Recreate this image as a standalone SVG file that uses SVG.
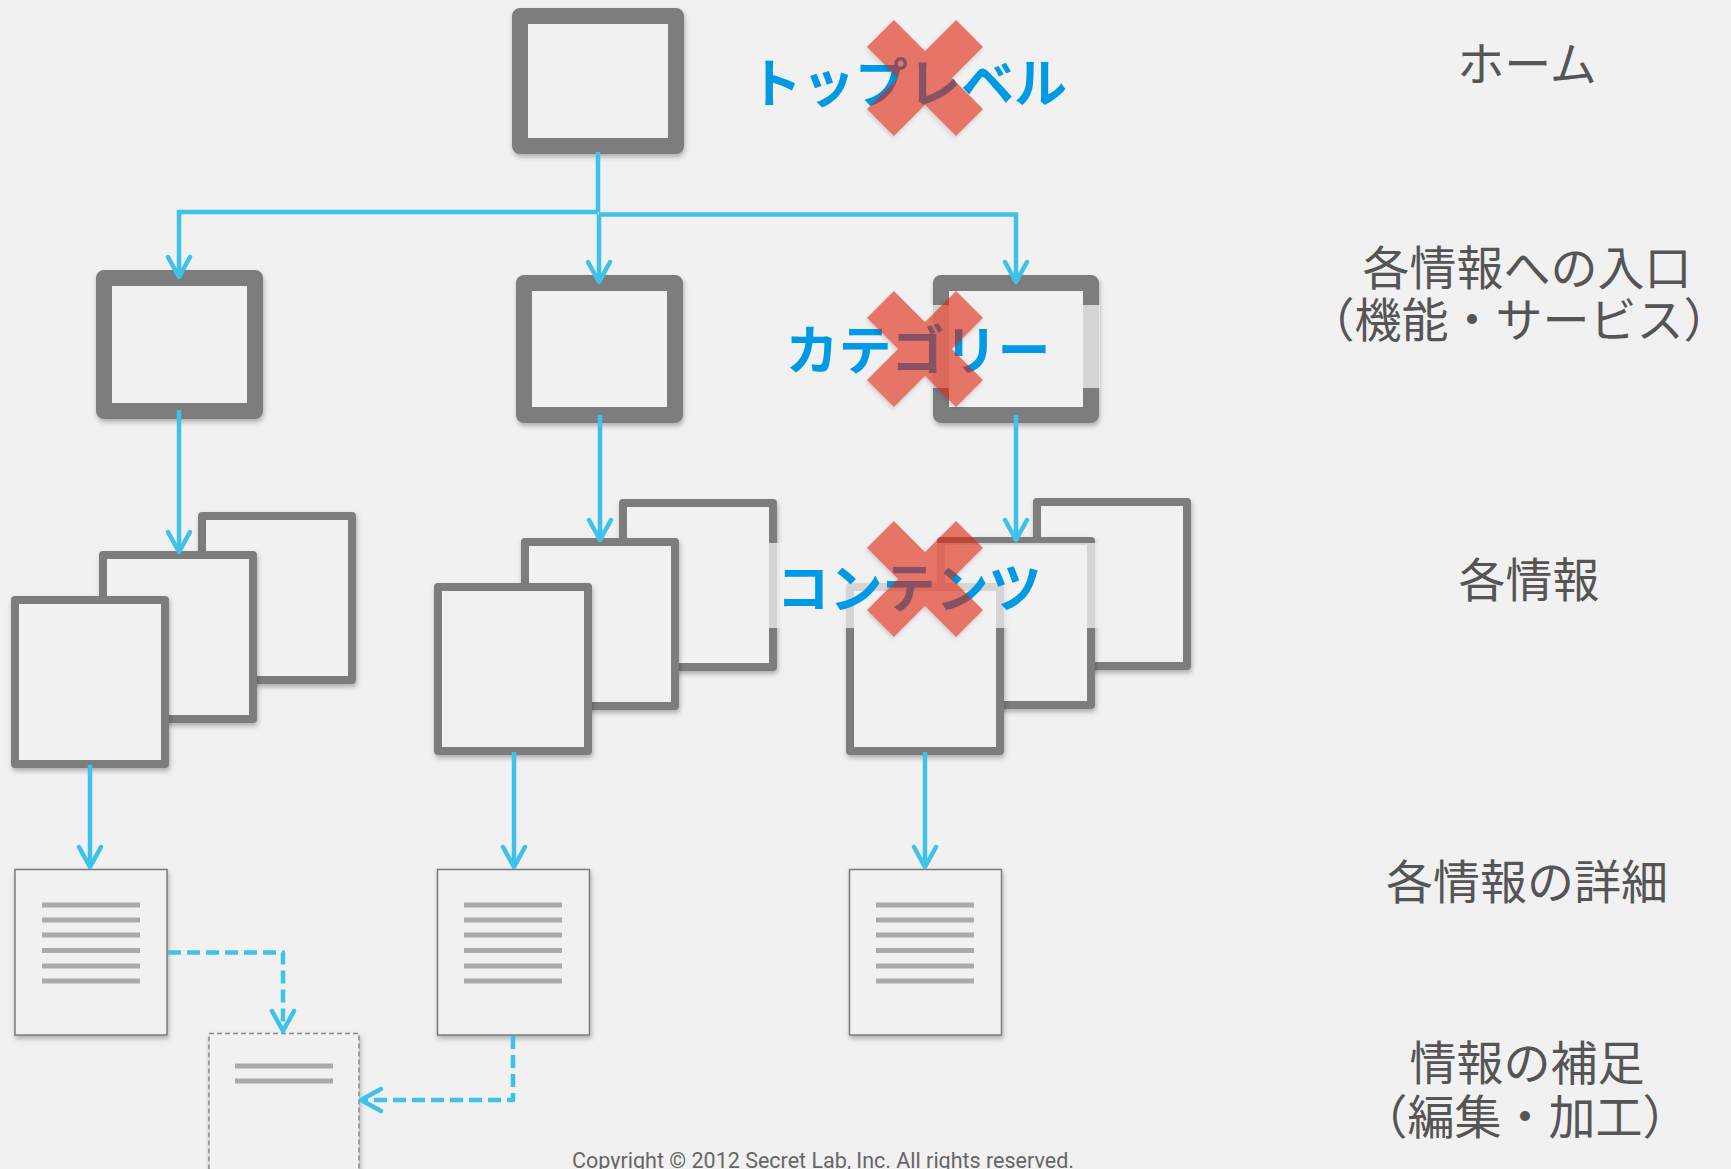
<svg xmlns="http://www.w3.org/2000/svg" width="1731" height="1169" viewBox="0 0 1731 1169">
<defs>
<style>
.bg{fill:#f1f1f1}
.box{fill:#f1f1f1;stroke:#7d7d7d;stroke-width:16;stroke-linejoin:round;filter:url(#sh)}
.sbox{fill:#f1f1f1;stroke:#7d7d7d;stroke-width:8;stroke-linejoin:round;filter:url(#sh)}
.doc{fill:#f1f1f1;stroke:#7a7a7a;stroke-width:1.5;filter:url(#sh)}
.dbox{fill:#f1f1f1;stroke:#888;stroke-width:1.5;stroke-dasharray:5 3;filter:url(#sh)}
.ln{fill:#aaaaaa}
.c{fill:none;stroke:#3ec2ea;stroke-width:4.5}
.cd{fill:none;stroke:#3ec2ea;stroke-width:4.5;stroke-dasharray:13 6;stroke-linejoin:round}
.blue{font-family:"Noto Sans CJK JP","Noto Sans",sans-serif;font-weight:bold;font-size:53px;fill:#0099e6;text-anchor:middle}
.lab{font-family:"Noto Sans CJK JP","Noto Sans",sans-serif;font-size:47px;fill:#555;text-anchor:middle}
.band{fill:#f1f1f1;opacity:0.76}
.x{fill:#e0200a;opacity:0.6}
.copy{font-family:Roboto,"Liberation Sans",sans-serif;font-size:21.5px;fill:#666;text-anchor:middle}
</style>
<filter id="sh" x="-10%" y="-10%" width="125%" height="125%">
<feDropShadow dx="1" dy="3" stdDeviation="2.5" flood-color="#000" flood-opacity="0.28"/>
</filter>
<filter id="xsh" x="-20%" y="-20%" width="140%" height="140%">
<feDropShadow dx="1" dy="2" stdDeviation="2" flood-color="#000" flood-opacity="0.25"/>
</filter>
<marker id="ah" viewBox="-26 -15 30 30" markerWidth="30" markerHeight="30" refX="0" refY="0" orient="auto" markerUnits="userSpaceOnUse">
<path d="M-20,-11 L0,0 L-20,11" fill="none" stroke="#3ec2ea" stroke-width="4.5" stroke-linecap="round" stroke-linejoin="round"/>
</marker>
<path id="xs" d="M-19,-63 L19,-63 L19,-19 L63,-19 L63,19 L19,19 L19,63 L-19,63 L-19,19 L-63,19 L-63,-19 L-19,-19 Z"/>
</defs>
<rect class="bg" x="0" y="0" width="1731" height="1169"/>

<g id="top"><rect class="box" x="520" y="16" width="156" height="130"/></g>

<g id="cat1"><rect class="box" x="104" y="278" width="151" height="133"/></g>
<g id="cat2"><rect class="box" x="524" y="283" width="151" height="132"/></g>
<g id="cat3"><rect class="box" x="941" y="283" width="150" height="132"/></g>

<g id="info1">
<rect class="sbox" x="202" y="516" width="150" height="164"/>
<rect class="sbox" x="103" y="555" width="150" height="164"/>
<rect class="sbox" x="15" y="600" width="150" height="164"/>
</g>
<g id="info2">
<rect class="sbox" x="623" y="503" width="150" height="164"/>
<rect class="sbox" x="525" y="542" width="150" height="164"/>
<rect class="sbox" x="438" y="587" width="150" height="164"/>
</g>
<g id="info3">
<rect class="sbox" x="1037" y="502" width="150" height="164"/>
<rect class="sbox" x="941" y="541" width="150" height="164"/>
<rect class="sbox" x="850" y="587" width="150" height="164"/>
</g>

<g id="detail1">
<rect class="doc" x="15" y="869.5" width="152" height="165.5"/>
<rect class="ln" x="42" y="902.5" width="98" height="5"/>
<rect class="ln" x="42" y="917.5" width="98" height="5"/>
<rect class="ln" x="42" y="932.5" width="98" height="5"/>
<rect class="ln" x="42" y="948" width="98" height="5"/>
<rect class="ln" x="42" y="963.5" width="98" height="5"/>
<rect class="ln" x="42" y="978.5" width="98" height="5"/>
</g>
<g id="detail2">
<rect class="doc" x="437.5" y="869.5" width="152" height="165.5"/>
<rect class="ln" x="464" y="902.5" width="98" height="5"/>
<rect class="ln" x="464" y="917.5" width="98" height="5"/>
<rect class="ln" x="464" y="932.5" width="98" height="5"/>
<rect class="ln" x="464" y="948" width="98" height="5"/>
<rect class="ln" x="464" y="963.5" width="98" height="5"/>
<rect class="ln" x="464" y="978.5" width="98" height="5"/>
</g>
<g id="detail3">
<rect class="doc" x="849.5" y="869.5" width="152" height="165.5"/>
<rect class="ln" x="876" y="902.5" width="98" height="5"/>
<rect class="ln" x="876" y="917.5" width="98" height="5"/>
<rect class="ln" x="876" y="932.5" width="98" height="5"/>
<rect class="ln" x="876" y="948" width="98" height="5"/>
<rect class="ln" x="876" y="963.5" width="98" height="5"/>
<rect class="ln" x="876" y="978.5" width="98" height="5"/>
</g>
<g id="supplement">
<rect class="dbox" x="209" y="1033.5" width="150" height="170"/>
<rect class="ln" x="235" y="1063.5" width="98" height="5"/>
<rect class="ln" x="235" y="1078.5" width="98" height="5"/>
</g>

<g id="connectors">
<path class="c" d="M598,152 V212"/>
<path class="c" d="M598,212 H179 V277" marker-end="url(#ah)"/>
<path class="c" d="M599,214.5 H1016 V282" marker-end="url(#ah)"/>
<path class="c" d="M599,214.5 V282" marker-end="url(#ah)"/>
<path class="c" d="M179,410 V552" marker-end="url(#ah)"/>
<path class="c" d="M600,415 V540" marker-end="url(#ah)"/>
<path class="c" d="M1016,415 V540" marker-end="url(#ah)"/>
<path class="c" d="M90,765 V867" marker-end="url(#ah)"/>
<path class="c" d="M514,752 V867" marker-end="url(#ah)"/>
<path class="c" d="M925,752 V867" marker-end="url(#ah)"/>
<path class="cd" d="M168,952.5 H283 V1031" marker-end="url(#ah)"/>
<path class="cd" d="M513,1036 V1100 H361" marker-end="url(#ah)"/>
</g>

<g id="label-top">
<rect class="band" x="745" y="40" width="340" height="83"/>
<text class="blue" x="908" y="103">トップレベル</text>
<use href="#xs" class="x" transform="translate(925,78) rotate(45)" filter="url(#xsh)"/>
</g>
<g id="label-category">
<rect class="band" x="762" y="305" width="338" height="83"/>
<text class="blue" x="918" y="370">カテゴリー</text>
<use href="#xs" class="x" transform="translate(925,349) rotate(45)" filter="url(#xsh)"/>
</g>
<g id="label-contents">
<rect class="band" x="720" y="543" width="380" height="85"/>
<text class="blue" x="909" y="608">コンテンツ</text>
<use href="#xs" class="x" transform="translate(925,579) rotate(45)" filter="url(#xsh)"/>
</g>

<g id="levels">
<text class="lab" x="1527" y="81">ホーム</text>
<text class="lab"><tspan x="1527" y="285">各情報への入口</tspan><tspan x="1519" y="337">（機能・サービス）</tspan></text>
<text class="lab" x="1529" y="597">各情報</text>
<text class="lab" x="1527" y="899">各情報の詳細</text>
<text class="lab"><tspan x="1527" y="1080">情報の補足</tspan><tspan x="1525" y="1134">（編集・加工）</tspan></text>
</g>

<text class="copy" x="823" y="1168">Copyright © 2012 Secret Lab, Inc. All rights reserved.</text>
</svg>
